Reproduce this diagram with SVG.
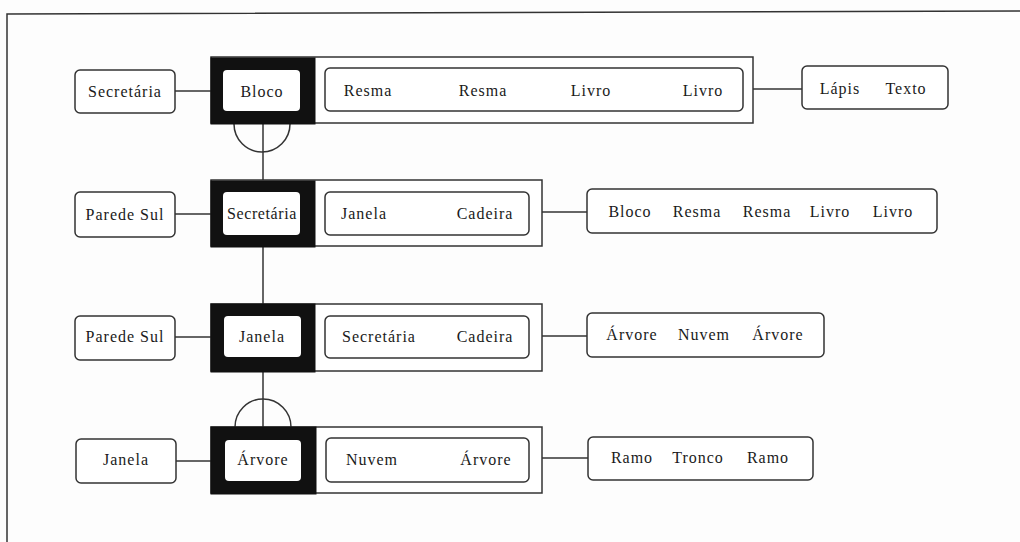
<svg xmlns="http://www.w3.org/2000/svg" width="1020" height="542" viewBox="0 0 1020 542" font-family="'Liberation Serif', 'DejaVu Serif', serif">
<style>
.bg{fill:#fdfdfd}
.frame{stroke:#333;stroke-width:1.5;fill:none}
.box{fill:#fff;stroke:#333;stroke-width:1.5}
.blk{fill:#111;stroke:#111;stroke-width:1}
.in{fill:#fff;stroke:none}
.cont{fill:#fff;stroke:#333;stroke-width:1.5}
.ln{stroke:#333;stroke-width:1.5;fill:none}
text{font-family:'Liberation Serif','Times New Roman',serif;font-size:16px;fill:#1a1a1a;text-anchor:middle;letter-spacing:1px}
</style>
<rect class="bg" x="0" y="0" width="1020" height="542"/>
<g id="frame">
<path class="frame" d="M7 542 L7 14 L1020 11"/>
</g>
<g id="connectors">
<line class="ln" x1="175" y1="91" x2="211" y2="91"/>
<line class="ln" x1="753" y1="89" x2="802" y2="89"/>
<line class="ln" x1="263" y1="124" x2="263" y2="181"/>
<path class="ln" d="M234 124 A28 28 0 0 0 290 124"/>
<line class="ln" x1="175" y1="214" x2="211" y2="214"/>
<line class="ln" x1="542" y1="212" x2="587" y2="212"/>
<line class="ln" x1="263" y1="247" x2="263" y2="304"/>
<line class="ln" x1="175" y1="337" x2="211" y2="337"/>
<line class="ln" x1="542" y1="336" x2="587" y2="336"/>
<line class="ln" x1="263" y1="372" x2="263" y2="427"/>
<path class="ln" d="M235 427 A28 28 0 0 1 291 427"/>
<line class="ln" x1="176" y1="461" x2="211" y2="461"/>
<line class="ln" x1="542" y1="458" x2="588" y2="458"/>
</g>
<g id="row1-left"><rect class="box" x="75" y="70" width="100" height="43" rx="5"/><text x="125" y="97">Secretária</text></g>
<g id="row1-main">
<rect class="cont" x="211" y="57" width="542" height="66"/>
<rect class="blk" x="211" y="58" width="104" height="66"/>
<rect class="in" x="223" y="70" width="77" height="41" rx="4"/>
<text x="262" y="97">Bloco</text>
<rect class="box" x="325" y="68" width="418" height="43" rx="5"/>
<text x="368" y="96">Resma</text><text x="483" y="96">Resma</text><text x="591" y="96">Livro</text><text x="703" y="96">Livro</text>
</g>
<g id="row1-right"><rect class="box" x="802" y="66" width="146" height="43" rx="5"/><text x="840" y="94">Lápis</text><text x="906" y="94">Texto</text></g>

<g id="row2-left"><rect class="box" x="75" y="192" width="100" height="45" rx="5"/><text x="125" y="220">Parede Sul</text></g>
<g id="row2-main">
<rect class="cont" x="211" y="180" width="331" height="66"/>
<rect class="blk" x="211" y="181" width="104" height="66"/>
<rect class="in" x="223" y="192" width="77" height="43" rx="4"/>
<text x="262" y="219" style="letter-spacing:0.6px">Secretária</text>
<rect class="box" x="325" y="192" width="204" height="43" rx="5"/>
<text x="364" y="219">Janela</text><text x="485" y="219">Cadeira</text>
</g>
<g id="row2-right"><rect class="box" x="587" y="189" width="350" height="44" rx="5"/>
<text x="630" y="217">Bloco</text><text x="697" y="217">Resma</text><text x="767" y="217">Resma</text><text x="830" y="217">Livro</text><text x="893" y="217">Livro</text></g>

<g id="row3-left"><rect class="box" x="75" y="316" width="100" height="44" rx="5"/><text x="125" y="342">Parede Sul</text></g>
<g id="row3-main">
<rect class="cont" x="211" y="304" width="331" height="67"/>
<rect class="blk" x="211" y="304" width="104" height="68"/>
<rect class="in" x="224" y="316" width="77" height="41" rx="4"/>
<text x="262" y="342">Janela</text>
<rect class="box" x="325" y="316" width="204" height="42" rx="5"/>
<text x="379" y="342">Secretária</text><text x="485" y="342">Cadeira</text>
</g>
<g id="row3-right"><rect class="box" x="587" y="313" width="237" height="44" rx="5"/>
<text x="632" y="340">Árvore</text><text x="704" y="340">Nuvem</text><text x="778" y="340">Árvore</text></g>

<g id="row4-left"><rect class="box" x="76" y="439" width="100" height="44" rx="5"/><text x="126" y="465">Janela</text></g>
<g id="row4-main">
<rect class="cont" x="211" y="427" width="331" height="66"/>
<rect class="blk" x="211" y="427" width="105" height="67"/>
<rect class="in" x="225" y="440" width="76" height="41" rx="4"/>
<text x="263" y="465">Árvore</text>
<rect class="box" x="326" y="438" width="203" height="44" rx="5"/>
<text x="372" y="465">Nuvem</text><text x="486" y="465">Árvore</text>
</g>
<g id="row4-right"><rect class="box" x="588" y="437" width="225" height="43" rx="5"/>
<text x="632" y="463">Ramo</text><text x="698" y="463">Tronco</text><text x="768" y="463">Ramo</text></g>
</svg>
